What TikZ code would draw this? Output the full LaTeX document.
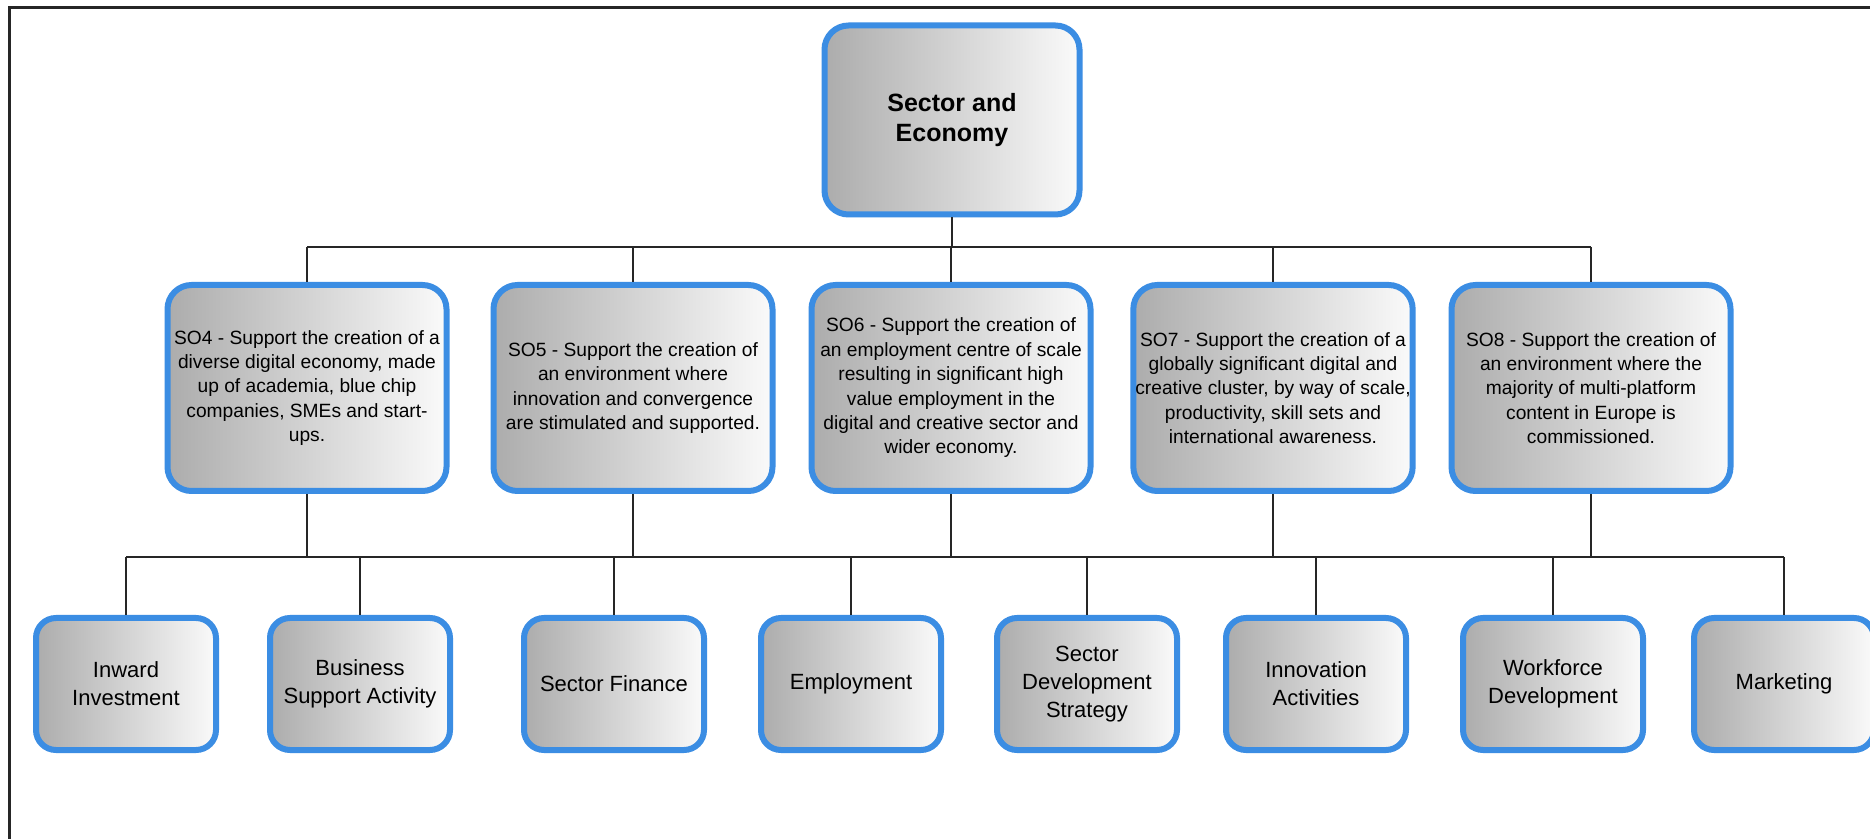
\documentclass[tikz,border=0pt]{standalone}
\usepackage{fontspec}
\setmainfont{Liberation Sans}
\usetikzlibrary{shadows}
\definecolor{boxblue}{RGB}{59,141,227}
\definecolor{shadeL}{RGB}{172,172,172}
\definecolor{shadeR}{RGB}{250,250,250}
\tikzset{
  basebox/.style={draw=boxblue, line width=3pt, left color=shadeL, right color=shadeR,
    align=center, text=black, inner sep=1pt,
    drop shadow={shadow xshift=0.7pt, shadow yshift=-0.9pt, fill=blue!40!black, opacity=0.35}},
  topbox/.style={basebox, rounded corners=12pt, minimum width=127.5pt, minimum height=94.5pt,
    font=\fontsize{12.5}{15}\selectfont\bfseries},
  midbox/.style={basebox, rounded corners=12pt, minimum width=139.5pt, minimum height=103pt,
    font=\fontsize{9.6}{12.2}\selectfont},
  lowbox/.style={basebox, rounded corners=10pt, minimum width=90pt, minimum height=66pt,
    font=\fontsize{11}{14}\selectfont},
  link/.style={draw=black!85, line width=1.25pt}
}
\begin{document}
\begin{tikzpicture}[x=0.5pt, y=-0.5pt]
\useasboundingbox (0,0) rectangle (1870,839);
\fill[white] (0,0) rectangle (1870,839);
\draw[line width=1.5pt, black!85] (9,839) -- (9,8) -- (1870,8);

\coordinate (busA) at (0,247);
\coordinate (busB) at (0,557);

\node[topbox] (top) at (952,120) {Sector and\\Economy};

\node[midbox] (so4) at (307,388) {SO4 - Support the creation of a\\diverse digital economy, made\\up of academia, blue chip\\companies, SMEs and start-\\ups.};
\node[midbox] (so5) at (633,388) {SO5 - Support the creation of\\an environment where\\innovation and convergence\\are stimulated and supported.};
\node[midbox] (so6) at (951,388) {SO6 - Support the creation of\\an employment centre of scale\\resulting in significant high\\value employment in the\\digital and creative sector and\\wider economy.};
\node[midbox] (so7) at (1273,388) {SO7 - Support the creation of a\\globally significant digital and\\creative cluster, by way of scale,\\productivity, skill sets and\\international awareness.};
\node[midbox] (so8) at (1591,388) {SO8 - Support the creation of\\an environment where the\\majority of multi-platform\\content in Europe is\\commissioned.};

\node[lowbox] (l1) at (126,684) {Inward\\Investment};
\node[lowbox] (l2) at (360,684) {Business\\Support Activity};
\node[lowbox] (l3) at (614,684) {Sector Finance};
\node[lowbox] (l4) at (851,684) {Employment};
\node[lowbox] (l5) at (1087,684) {Sector\\Development\\Strategy};
\node[lowbox] (l6) at (1316,684) {Innovation\\Activities};
\node[lowbox] (l7) at (1553,684) {Workforce\\Development};
\node[lowbox] (l8) at (1784,684) {Marketing};

% level 1 -> level 2
\draw[link] (top.south) -- (top.south |- busA);
\draw[link] (so4.north |- busA) -- (so8.north |- busA);
\foreach \n in {so4,so5,so6,so7,so8}
  \draw[link] (\n.north |- busA) -- (\n.north);

% level 2 -> level 3
\draw[link] (l1.north |- busB) -- (l8.north |- busB);
\foreach \n in {so4,so5,so6,so7,so8}
  \draw[link] (\n.south) -- (\n.south |- busB);
\foreach \n in {l1,l2,l3,l4,l5,l6,l7,l8}
  \draw[link] (\n.north |- busB) -- (\n.north);
\end{tikzpicture}
\end{document}
